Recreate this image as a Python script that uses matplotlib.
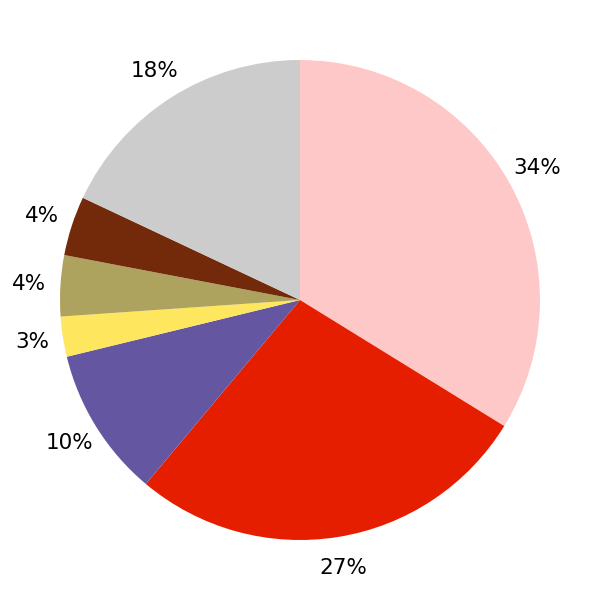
import matplotlib
matplotlib.use('Agg')
import matplotlib.pyplot as plt

values = [33.8, 27.3, 10.1, 2.7, 4.1, 4.0, 18.0]
labels = ['34%', '27%', '10%', '3%', '4%', '4%', '18%']
colors = ['#FFC8C8', '#E61E00', '#6456A0', '#FFE65F', '#AEA25F', '#722A0A', '#CCCCCC']

fig = plt.figure(figsize=(6, 6), dpi=100)
ax = fig.add_axes([0, 0, 1, 1])
wedges, texts = ax.pie(values, labels=labels, colors=colors, startangle=90,
                       counterclock=False, labeldistance=1.13,
                       textprops={'fontsize': 15.5, 'color': 'black'},
                       wedgeprops={'linewidth': 0})
for t in texts:
    t.set_ha('center')
    t.set_va('center')
ax.set_xlim(-1.25, 1.25)
ax.set_ylim(-1.25, 1.25)
ax.set_aspect('equal')
ax.axis('off')
fig.savefig('out.png')
